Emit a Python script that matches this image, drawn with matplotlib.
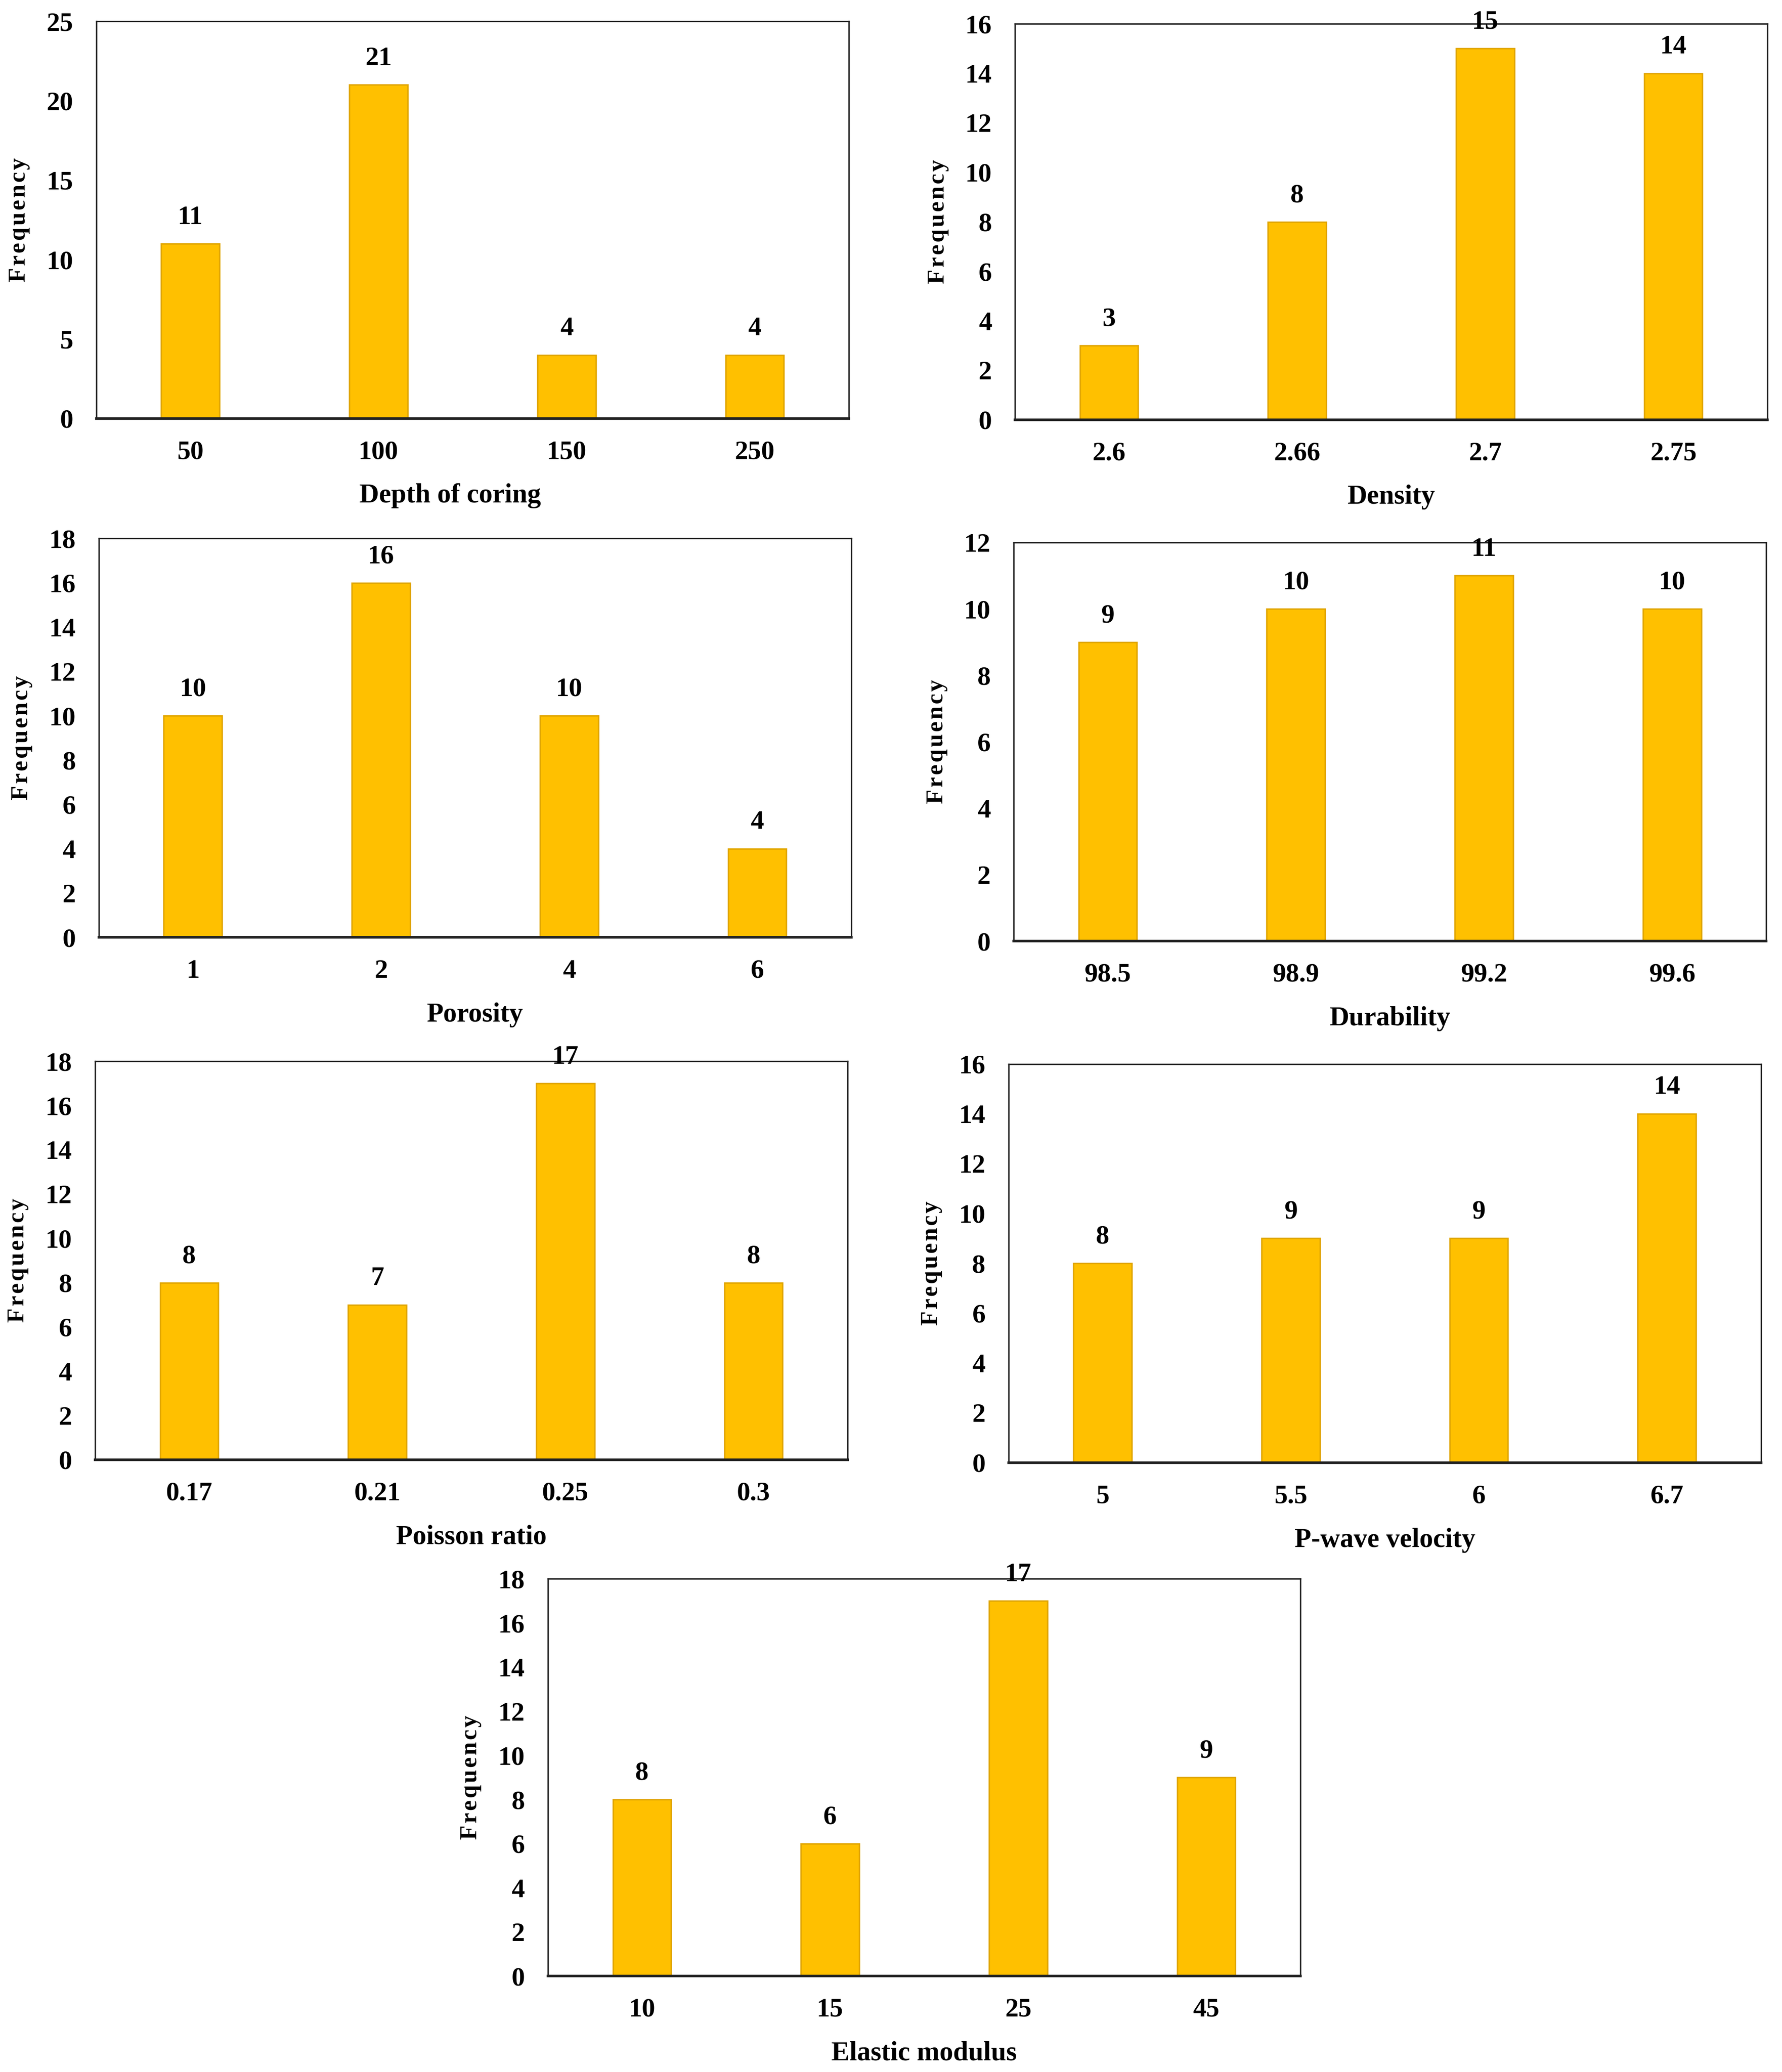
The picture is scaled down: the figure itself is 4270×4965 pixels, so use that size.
import matplotlib
matplotlib.use("Agg")
import matplotlib.pyplot as plt

plt.rcParams['font.family'] = ['Liberation Serif', 'DejaVu Serif']
plt.rcParams['font.weight'] = 'bold'

# ---- data ----
depth_cats = ["50", "100", "150", "250"]
depth_freq = [11, 21, 4, 4]

density_cats = ["2.6", "2.66", "2.7", "2.75"]
density_freq = [3, 8, 15, 14]

porosity_cats = ["1", "2", "4", "6"]
porosity_freq = [10, 16, 10, 4]

durability_cats = ["98.5", "98.9", "99.2", "99.6"]
durability_freq = [9, 10, 11, 10]

poisson_cats = ["0.17", "0.21", "0.25", "0.3"]
poisson_freq = [8, 7, 17, 8]

pwave_cats = ["5", "5.5", "6", "6.7"]
pwave_freq = [8, 9, 9, 14]

elastic_cats = ["10", "15", "25", "45"]
elastic_freq = [8, 6, 17, 9]

xlabels = ["Depth of coring", "Density", "Porosity", "Durability",
           "Poisson ratio", "P-wave velocity", "Elastic modulus"]
ymaxes = [25, 16, 18, 12, 18, 16, 18]
ysteps = [5, 2, 2, 2, 2, 2, 2]

panels = [
    (depth_cats, depth_freq),
    (density_cats, density_freq),
    (porosity_cats, porosity_freq),
    (durability_cats, durability_freq),
    (poisson_cats, poisson_freq),
    (pwave_cats, pwave_freq),
    (elastic_cats, elastic_freq),
]

# axes rectangles [left, bottom, width, height] in figure fraction
rects = [
    [0.0541, 0.7980, 0.4222, 0.1917],
    [0.5696, 0.7974, 0.4222, 0.1911],
    [0.0555, 0.5476, 0.4222, 0.1925],
    [0.5689, 0.5458, 0.4222, 0.1924],
    [0.0534, 0.2955, 0.4222, 0.1923],
    [0.5660, 0.2941, 0.4222, 0.1924],
    [0.3075, 0.0463, 0.4222, 0.1917],
]
xlabel_x = [0.47, 0.5, 0.5, 0.5, 0.5, 0.5, 0.5]

BAR = "#FFC000"
EDGE = "#E0A500"
HS = "\u200a"

fig = plt.figure(figsize=(42.7, 49.65), dpi=100)
fig.patch.set_facecolor("white")

for i, ((cats, freq), rect) in enumerate(zip(panels, rects)):
    ax = fig.add_axes(rect)
    x = list(range(len(cats)))
    bars = ax.bar(x, freq, width=0.31, color=BAR, edgecolor=EDGE, linewidth=2.5, zorder=2)
    for b, v in zip(bars, freq):
        ax.annotate(str(v), (b.get_x() + b.get_width() / 2, v),
                    xytext=(0, 45), textcoords="offset points",
                    ha="center", va="center", fontsize=46, fontweight="bold")
    ax.set_xlim(-0.5, len(cats) - 0.5)
    ax.set_ylim(0, ymaxes[i])
    ax.set_yticks(range(0, ymaxes[i] + 1, ysteps[i]))
    ax.set_xticks(x)
    ax.set_xticklabels(cats)
    ax.tick_params(axis="both", length=0, labelsize=46)
    ax.tick_params(axis="x", pad=38)
    ax.tick_params(axis="y", pad=40)
    for lbl in ax.get_xticklabels() + ax.get_yticklabels():
        lbl.set_fontweight("bold")
    for side in ["top", "left", "right"]:
        ax.spines[side].set_linewidth(2.5)
        ax.spines[side].set_color("#222222")
    ax.spines["bottom"].set_linewidth(4.5)
    ax.spines["bottom"].set_color("#222222")
    ax.spines["bottom"].set_zorder(3)
    ax.set_ylabel(HS.join("Frequency"), fontsize=41, fontweight="bold")
    ax.yaxis.set_label_coords(-0.088, 0.5)
    ax.set_xlabel(xlabels[i], fontsize=47, fontweight="bold")
    ax.xaxis.set_label_coords(xlabel_x[i], -0.163)

fig.savefig("out.png", dpi=100, facecolor="white")
